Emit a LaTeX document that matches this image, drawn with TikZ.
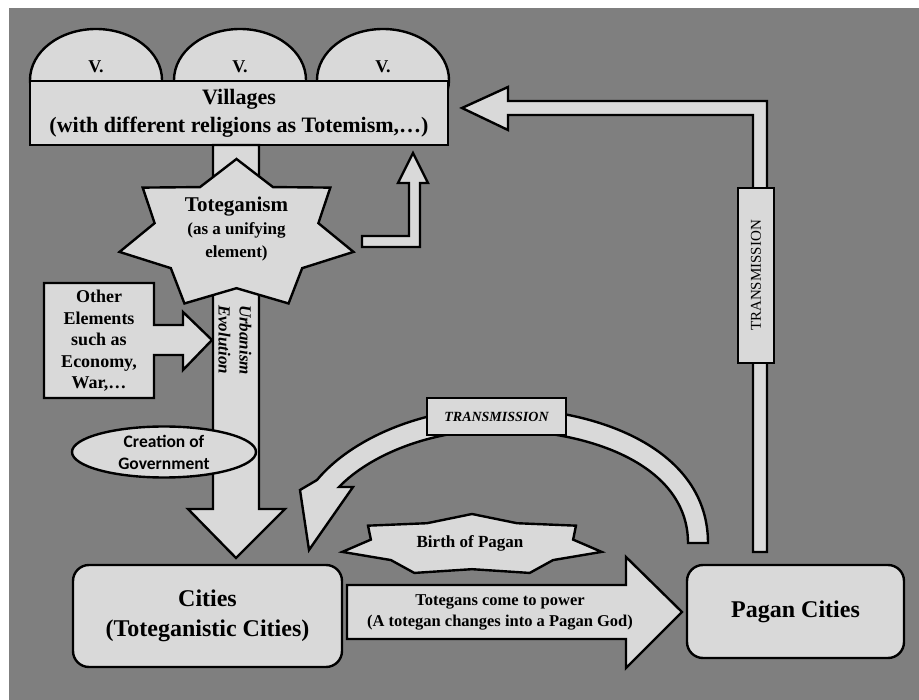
\documentclass[tikz,border=0pt]{standalone}
\usepackage{fontspec}
\setmainfont{Liberation Serif}[BoldFont={Liberation Serif Bold}, ItalicFont={Liberation Serif Italic}, BoldItalicFont={Liberation Serif Bold Italic}]
\newfontfamily\carlito{Carlito}
\usetikzlibrary{shapes.geometric}
\definecolor{bggray}{RGB}{127,127,127}
\definecolor{boxgray}{RGB}{217,217,217}
\newcommand{\sevenstar}[5]{(#1,{#2-#4}) \foreach \k in {1,...,13} {-- ({#1+#3*(1-(1-#5)*mod(\k,2))*cos(90-\k*360/14)},{#2-#4*(1-(1-#5)*mod(\k,2))*sin(90-\k*360/14)})} -- cycle}

\begin{document}
\begin{tikzpicture}[x=1pt, y=-1pt,
    blk/.style={draw=black, line width=2.4pt, fill=boxgray},
    box/.style={blk, inner sep=0pt, align=center},
    big/.style={font=\bfseries\fontsize{24}{30}\selectfont},
    mid/.style={font=\bfseries\fontsize{17}{21}\selectfont}
    ]
    \useasboundingbox (0,0) rectangle (919,700);
    \fill[bggray] (9,8) rectangle (919,700);

    \foreach \n/\cx in {1/96,2/240,3/383}
      \node[blk, ellipse, minimum width=132pt, minimum height=102pt] (v\n) at (\cx,80) {};
    \foreach \n in {1,2,3}
      \node[mid, font=\bfseries\fontsize{18}{21}\selectfont] (vt\n) at ([yshift=13pt]v\n.center) {V.};
    \node[box, minimum width=418pt, minimum height=64pt, font=\bfseries\fontsize{22}{28}\selectfont] (vill) at (239,113)
      {Villages\\(with different religions as Totemism,…)};

    \draw[blk] (213,145) -- (259,145) -- (259,509) -- (285,509) -- (236,558) -- (188,509) -- (213,509) -- cycle;

    \draw[blk] \sevenstar{236.5}{235}{120}{76}{0.7};
    \node[align=center, inner sep=0pt, font=\bfseries\fontsize{17}{23}\selectfont] (tot) at (236.5,229)
      {{\fontsize{21}{23}\selectfont Toteganism}\\(as a unifying\\element)};

    \draw[blk] (362,236) -- (409,236) -- (409,183) -- (398,183) -- (413,153) -- (428,183) -- (420,183) -- (420,247) -- (362,247) -- cycle;

    \draw[blk] (44,283) -- (154,283) -- (154,325) -- (183,325) -- (183,312) -- (212,340) -- (183,370) -- (183,355) -- (154,355) -- (154,398) -- (44,398) -- cycle;
    \node[align=center, inner sep=0pt, font=\bfseries\fontsize{18}{21.5}\selectfont] (oth) at (99,341)
      {Other\\Elements\\such as\\Economy,\\War,…};

    \node[rotate=-90, align=left, inner sep=0pt, font=\bfseries\itshape\fontsize{17}{21}\selectfont] (urb) at (235,340)
      {Urbanism\\Evolution};

    \node[blk, ellipse, minimum width=184pt, minimum height=51pt, inner sep=0pt, align=center,
      font=\carlito\bfseries\fontsize{17.5}{22}\selectfont] (gov) at (164,452) {Creation of\\Government};

    \node[box, rounded corners=16pt, minimum width=269pt, minimum height=102pt, big] (cit) at (207.5,616)
      {Cities\\(Toteganistic Cities)};
    \node[box, rounded corners=16pt, minimum width=217pt, minimum height=93pt, big] (pag) at (795.5,611.5)
      {Pagan Cities};

    \draw[blk] (347,585) -- (626,585) -- (626,557) -- (682,612) -- (626,668) -- (626,639) -- (347,639) -- cycle;
    \node[align=center, inner sep=0pt, font=\bfseries\fontsize{16.5}{21}\selectfont] (pow) at (500,612)
      {Totegans come to power\\(A totegan changes into a Pagan God)};

    \draw[blk] \sevenstar{472}{545}{133}{31}{0.78};
    \node[mid] (bir) at (470,543) {Birth of Pagan};

    \draw[blk] (708,543) .. controls (708,450) and (600,408) .. (497,408)
      .. controls (420,408) and (350,440) .. (317,480) -- (300,490) -- (309,550) -- (353,487) -- (339,487)
      .. controls (370,455) and (430,430) .. (497,430) .. controls (590,430) and (688,465) .. (688,543) -- cycle;
    \node[box, minimum width=139pt, minimum height=37pt, font=\bfseries\itshape\fontsize{14}{16}\selectfont] (tr1) at (496.5,416.5)
      {TRANSMISSION};

    \draw[blk] (462,108) -- (508,87) -- (508,101) -- (767,101) -- (767,552) -- (753,552) -- (753,115) -- (508,115) -- (508,130) -- cycle;
    \node[box, rotate=90, minimum width=175pt, minimum height=36pt, font=\fontsize{15}{17}\selectfont] (tr2) at (756,275.5)
      {TRANSMISSION};
\end{tikzpicture}
\end{document}
